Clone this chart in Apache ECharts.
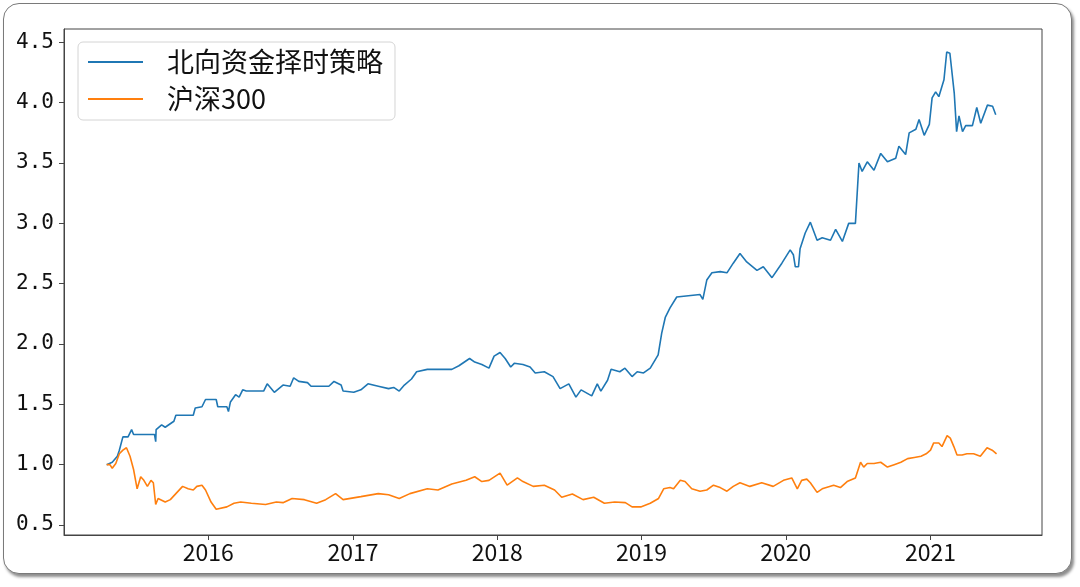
<!DOCTYPE html>
<html>
<head>
<meta charset="utf-8">
<script src="https://cdn.jsdelivr.net/npm/echarts@6/dist/echarts.min.js"></script>
<style>
html,body{margin:0;padding:0;background:#fff;width:1080px;height:587px;overflow:hidden;}
#frame{position:absolute;left:3px;top:3px;width:1067px;height:569px;border:1.5px solid #7a7a7a;border-radius:16px;background:#fff;box-shadow:2px 3px 3px rgba(0,0,0,0.45);}
#chart{position:absolute;left:0;top:0;width:1080px;height:587px;}
</style>
</head>
<body>
<div id="frame"></div>
<div id="chart"></div>
<script>
const seriesNames = ['北向资金择时策略', '沪深300'];

const strategyDates = [
'2015-04-19','2015-05-03','2015-05-16','2015-05-21','2015-05-30','2015-06-12','2015-06-21','2015-06-26','2015-08-18','2015-08-21','2015-08-22','2015-09-05','2015-09-14','2015-10-06','2015-10-11','2015-11-24','2015-11-29','2015-12-16','2015-12-25',
'2016-01-21','2016-01-25','2016-02-17','2016-02-21','2016-02-26','2016-03-10','2016-03-19','2016-03-28','2016-04-06','2016-05-20','2016-05-29','2016-06-16','2016-07-08','2016-07-26','2016-08-04','2016-08-17','2016-09-08','2016-09-17','2016-11-01','2016-11-14','2016-12-02','2016-12-07',
'2017-01-03','2017-01-21','2017-02-08','2017-03-06','2017-04-01','2017-04-14','2017-04-28','2017-05-11','2017-05-29','2017-06-11','2017-07-08','2017-09-08','2017-09-26','2017-10-23','2017-11-05','2017-11-23','2017-12-11','2017-12-24',
'2018-01-08','2018-01-21','2018-02-04','2018-02-13','2018-03-07','2018-03-25','2018-04-07','2018-04-30','2018-05-22','2018-06-09','2018-07-01','2018-07-19','2018-08-01','2018-08-28','2018-09-11','2018-09-20','2018-10-07','2018-10-16','2018-11-07','2018-11-20','2018-12-08','2018-12-21',
'2019-01-06','2019-01-23','2019-02-12','2019-02-21','2019-03-02','2019-03-14','2019-03-31','2019-05-29','2019-06-05','2019-06-15','2019-06-28','2019-07-19','2019-08-05','2019-08-21','2019-09-07','2019-09-24','2019-10-20','2019-11-05','2019-11-27','2019-12-22',
'2020-01-12','2020-01-20','2020-01-25','2020-02-02','2020-02-06','2020-02-19','2020-03-03','2020-03-20','2020-04-02','2020-04-23','2020-05-06','2020-05-23','2020-06-08','2020-06-25','2020-07-04','2020-07-12','2020-07-25','2020-08-11','2020-08-28','2020-09-14','2020-10-05','2020-10-13','2020-10-30','2020-11-08','2020-11-25','2020-12-03','2020-12-16','2020-12-29',
'2021-01-05','2021-01-14','2021-01-22','2021-02-04','2021-02-11','2021-02-19','2021-03-02','2021-03-08','2021-03-14','2021-03-23','2021-03-31','2021-04-17','2021-04-28','2021-05-08','2021-05-25','2021-06-07','2021-06-15'
];
const strategyValues = [
1.00,1.02,1.07,1.12,1.23,1.23,1.29,1.25,1.25,1.19,1.29,1.33,1.31,1.36,1.41,1.41,1.47,1.48,1.54,
1.54,1.48,1.48,1.44,1.52,1.58,1.56,1.62,1.61,1.61,1.67,1.60,1.66,1.65,1.72,1.69,1.68,1.65,1.65,1.69,1.66,1.61,
1.60,1.62,1.67,1.65,1.63,1.64,1.61,1.66,1.71,1.77,1.79,1.79,1.82,1.88,1.85,1.83,1.80,1.90,
1.93,1.88,1.81,1.84,1.83,1.81,1.76,1.77,1.73,1.63,1.67,1.56,1.62,1.57,1.67,1.61,1.70,1.79,1.77,1.80,1.73,1.77,
1.76,1.80,1.91,2.09,2.22,2.30,2.39,2.41,2.37,2.53,2.59,2.60,2.59,2.67,2.75,2.68,2.61,2.64,2.55,2.67,
2.78,2.74,2.64,2.64,2.79,2.92,3.01,2.86,2.88,2.86,2.95,2.85,3.00,3.00,3.50,3.43,3.51,3.44,3.58,3.51,3.54,3.64,3.57,3.75,3.78,3.86,3.73,3.82,
4.04,4.09,4.05,4.19,4.42,4.41,4.08,3.76,3.89,3.76,3.81,3.81,3.96,3.83,3.98,3.97,3.90
];

const hs300Dates = [
'2015-04-19','2015-04-27','2015-05-03','2015-05-12','2015-05-21','2015-05-30','2015-06-08','2015-06-17','2015-06-26','2015-07-05','2015-07-14','2015-07-22','2015-07-31','2015-08-09','2015-08-15','2015-08-21','2015-08-27','2015-09-14','2015-09-27','2015-10-11','2015-10-28','2015-11-11','2015-11-24','2015-12-03','2015-12-16','2015-12-25',
'2016-01-08','2016-01-21','2016-02-17','2016-03-06','2016-03-23','2016-04-19','2016-05-25','2016-06-21','2016-07-08','2016-07-31','2016-08-31','2016-10-01','2016-10-24','2016-11-18','2016-12-07',
'2017-01-21','2017-03-06','2017-04-01','2017-04-28','2017-05-25','2017-07-08','2017-08-04','2017-09-08','2017-10-14','2017-11-05','2017-11-23','2017-12-11',
'2018-01-08','2018-01-26','2018-02-21','2018-03-07','2018-04-02','2018-04-30','2018-05-26','2018-06-13','2018-07-10','2018-08-06','2018-09-02','2018-09-29','2018-10-25','2018-11-21','2018-12-08','2018-12-30',
'2019-01-23','2019-02-13','2019-02-26','2019-03-14','2019-03-23','2019-04-09','2019-04-21','2019-05-08','2019-05-29','2019-06-15','2019-07-02','2019-07-19','2019-08-05','2019-08-21','2019-09-07','2019-10-02','2019-11-01','2019-11-30','2019-12-26',
'2020-01-16','2020-01-30','2020-02-10','2020-02-23','2020-03-03','2020-03-20','2020-04-02','2020-05-01','2020-05-18','2020-06-04','2020-06-25','2020-07-08','2020-07-16','2020-07-25','2020-08-11','2020-08-28','2020-09-14','2020-10-01','2020-10-18','2020-11-04','2020-11-21','2020-12-08','2020-12-21',
'2021-01-01','2021-01-09','2021-01-22','2021-01-30','2021-02-12','2021-02-20','2021-03-01','2021-03-09','2021-03-22','2021-04-03','2021-04-20','2021-05-07','2021-05-24','2021-06-06','2021-06-17'
];
const hs300Values = [
1.00,1.00,0.97,1.01,1.09,1.12,1.14,1.07,0.96,0.80,0.90,0.87,0.82,0.87,0.85,0.67,0.72,0.69,0.71,0.76,0.82,0.80,0.79,0.82,0.83,0.79,
0.69,0.63,0.65,0.68,0.69,0.68,0.67,0.69,0.685,0.72,0.71,0.68,0.71,0.76,0.71,
0.735,0.76,0.75,0.72,0.76,0.80,0.79,0.84,0.87,0.90,0.86,0.87,
0.93,0.83,0.89,0.86,0.82,0.83,0.79,0.73,0.757,0.71,0.73,0.68,0.69,0.685,0.65,0.65,
0.68,0.72,0.80,0.81,0.80,0.87,0.86,0.80,0.78,0.79,0.83,0.81,0.78,0.82,0.85,0.82,0.85,0.82,0.87,
0.89,0.80,0.87,0.88,0.85,0.77,0.80,0.83,0.81,0.86,0.89,1.02,0.98,1.01,1.01,1.02,0.98,1.00,1.02,1.05,1.06,1.07,1.09,
1.12,1.18,1.18,1.15,1.24,1.22,1.15,1.08,1.08,1.09,1.09,1.07,1.14,1.12,1.09
];

const yTickValues = [0.5, 1.0, 1.5, 2.0, 2.5, 3.0, 3.5, 4.0, 4.5];
const xTickYears = [2016, 2017, 2018, 2019, 2020, 2021];
const xMinDate = '2015-01-01';
const xMaxDate = '2021-10-10';
const yMin = 0.417;
const yMax = 4.611;

const toTime = s => { const p = s.split('-').map(Number); return Date.UTC(p[0], p[1] - 1, p[2]); };
const pair = (ds, vs) => ds.map((d, i) => [toTime(d), vs[i]]);
const xTicks = xTickYears.map(y => Date.UTC(y, 0, 1));

const chart = echarts.init(document.getElementById('chart'), null, {renderer: 'canvas'});
chart.setOption({
  animation: false,
  backgroundColor: 'transparent',
  textStyle: {fontFamily: '"Noto Sans CJK SC", "Noto Sans", sans-serif'},
  grid: {left: 64, right: 38, top: 29, bottom: 52, show: true, borderColor: '#444', borderWidth: 1, backgroundColor: 'transparent', containLabel: false},
  legend: {
    show: true, orient: 'vertical', left: 78, top: 42,
    data: seriesNames,
    icon: 'rect', itemWidth: 55, itemHeight: 2, itemGap: 7,
    padding: [5, 12, 6, 10],
    backgroundColor: 'rgba(255,255,255,0.85)', borderColor: '#d4d4d4', borderWidth: 1, borderRadius: 5,
    textStyle: {fontSize: 27, color: '#111', lineHeight: 30, padding: [0, 0, 0, 19], fontFamily: '"Noto Sans CJK SC", sans-serif'}
  },
  xAxis: {
    type: 'value',
    min: toTime(xMinDate), max: toTime(xMaxDate),
    axisLine: {show: true, lineStyle: {color: '#444', width: 1}},
    axisTick: {show: true, inside: false, length: 5, lineStyle: {color: '#444'}, customValues: xTicks},
    axisLabel: {show: true, customValues: xTicks, margin: 6, fontSize: 23, color: '#111', fontFamily: '"Noto Sans CJK SC", sans-serif',
      formatter: v => String(new Date(v).getUTCFullYear())},
    splitLine: {show: false}
  },
  yAxis: {
    type: 'value',
    min: yMin, max: yMax,
    axisLine: {show: true, lineStyle: {color: '#444', width: 1}},
    axisTick: {show: true, inside: false, length: 5, lineStyle: {color: '#444'}, customValues: yTickValues},
    axisLabel: {show: true, customValues: yTickValues, margin: 10, fontSize: 21, color: '#111', fontFamily: '"DejaVu Sans Mono", monospace',
      formatter: v => v.toFixed(1)},
    splitLine: {show: false}
  },
  series: [
    {name: seriesNames[0], type: 'line', data: pair(strategyDates, strategyValues), symbol: 'none', showSymbol: false,
     lineStyle: {color: '#1f77b4', width: 1.6}, itemStyle: {color: '#1f77b4'}},
    {name: seriesNames[1], type: 'line', data: pair(hs300Dates, hs300Values), symbol: 'none', showSymbol: false,
     lineStyle: {color: '#ff7f0e', width: 1.6}, itemStyle: {color: '#ff7f0e'}}
  ]
});
</script>
</body>
</html>
